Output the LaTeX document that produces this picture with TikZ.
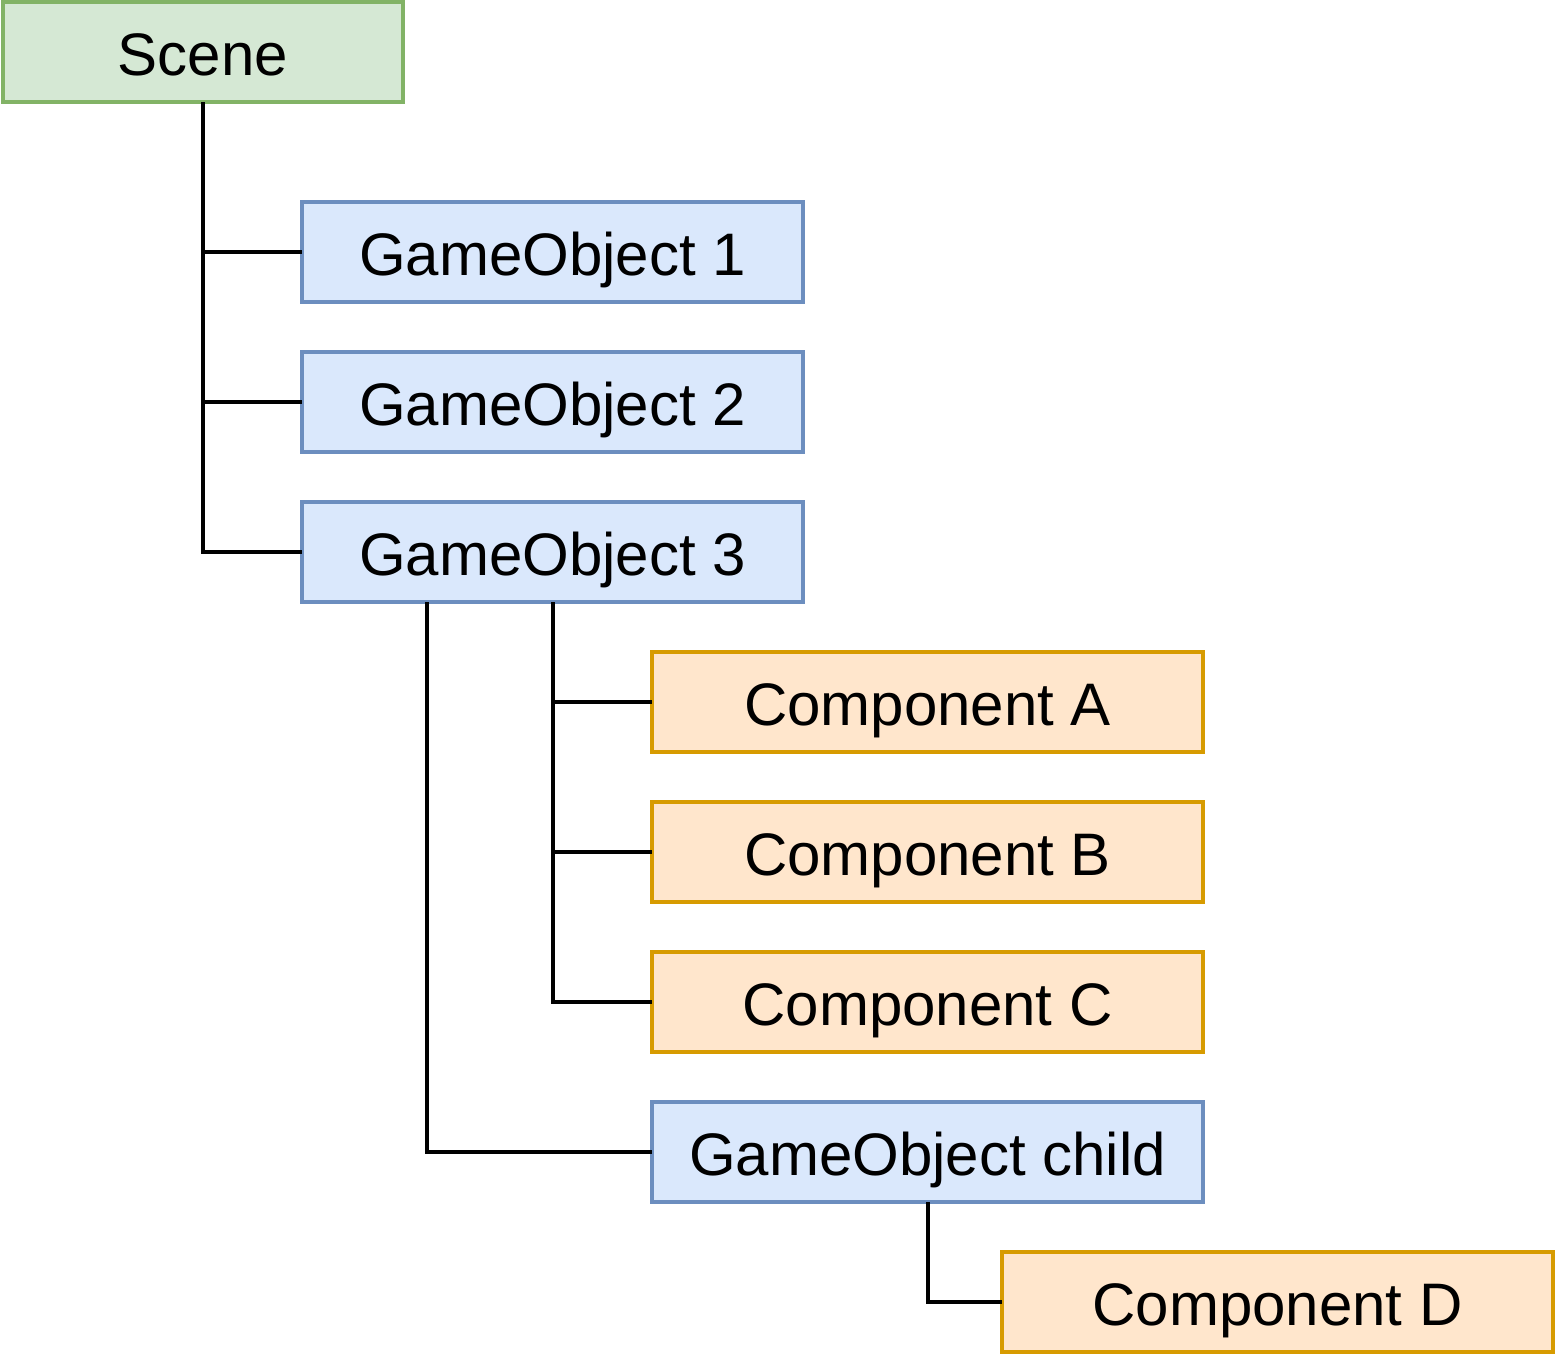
\documentclass[tikz,border=0pt]{standalone}
\usepackage{fontspec}
\setmainfont{Liberation Sans}
\usetikzlibrary{calc}
\definecolor{gfill}{HTML}{D5E8D4}
\definecolor{gdraw}{HTML}{82B366}
\definecolor{bfill}{HTML}{DAE8FC}
\definecolor{bdraw}{HTML}{6C8EBF}
\definecolor{ofill}{HTML}{FFE6CC}
\definecolor{odraw}{HTML}{D79B00}
\begin{document}
\begin{tikzpicture}[x=1pt,y=-1pt,
  box/.style={draw, line width=4pt, minimum height=100pt, inner sep=0pt, outer sep=0pt,
    text height=46pt, text depth=0pt,
    font=\fontsize{60}{72}\selectfont, anchor=center},
  scenebox/.style={box, fill=gfill, draw=gdraw, minimum width=400pt},
  gobox/.style={box, fill=bfill, draw=bdraw, minimum width=501pt},
  compbox/.style={box, fill=ofill, draw=odraw, minimum width=551pt},
  conn/.style={draw=black, line width=4pt}]
\useasboundingbox (0,0) rectangle (1555,1355);
\node[scenebox] (scene) at (203,52) {Scene};
\node[gobox] (go1) at (552.5,252) {GameObject 1};
\node[gobox] (go2) at (552.5,402) {GameObject 2};
\node[gobox] (go3) at (552.5,552) {GameObject 3};
\node[compbox] (ca) at (927.5,702) {Component A};
\node[compbox] (cb) at (927.5,852) {Component B};
\node[compbox] (cc) at (927.5,1002) {Component C};
\node[box, fill=bfill, draw=bdraw, minimum width=551pt] (goc) at (927.5,1152) {GameObject child};
\node[compbox] (cd) at (1277.5,1302) {Component D};
\coordinate (go3l) at ($(go3.south west)!0.25!(go3.south east)$);
\draw[conn] (scene.south) |- (go1.west);
\draw[conn] (scene.south) |- (go2.west);
\draw[conn] (scene.south) |- (go3.west);
\draw[conn] (go3.south) |- (ca.west);
\draw[conn] (go3.south) |- (cb.west);
\draw[conn] (go3.south) |- (cc.west);
\draw[conn] (go3l) |- (goc.west);
\draw[conn] (goc.south) |- (cd.west);
\end{tikzpicture}
\end{document}
